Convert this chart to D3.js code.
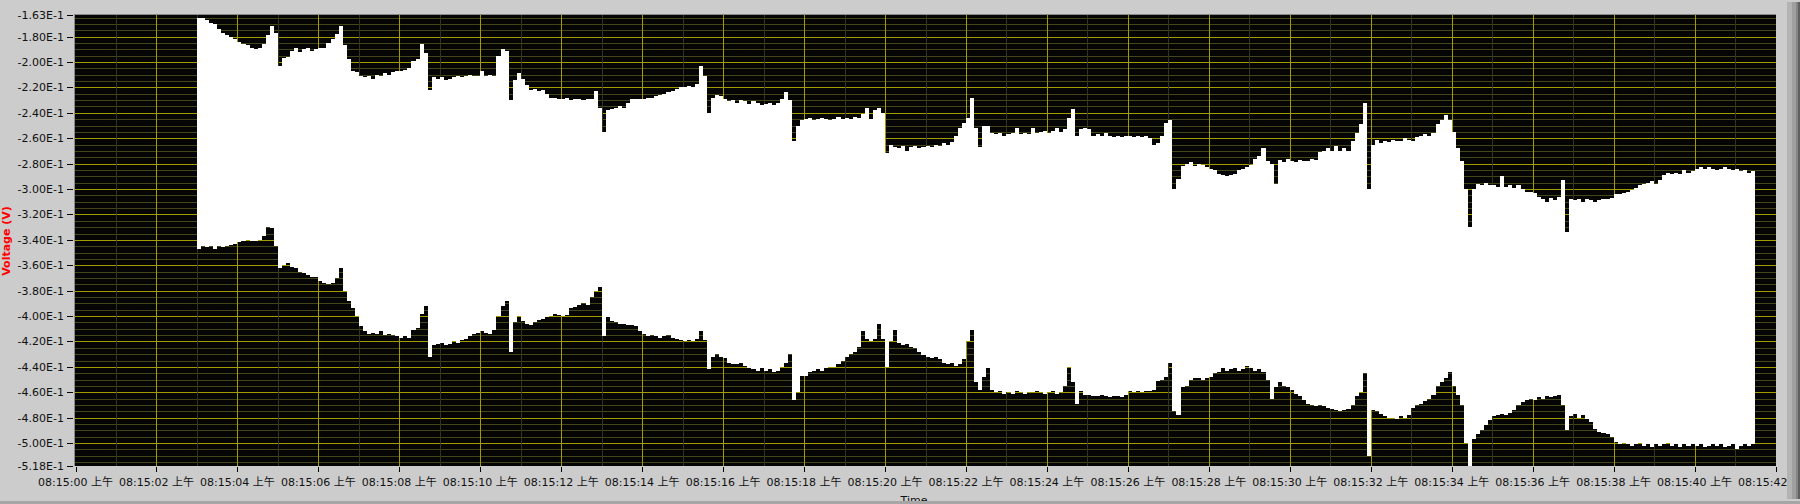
<!DOCTYPE html>
<html><head><meta charset="utf-8">
<script src="https://cdn.jsdelivr.net/npm/d3@7"></script>
<style>
html,body{margin:0;padding:0;background:#cccccc;overflow:hidden}
svg{display:block}
text{font-family:"DejaVu Sans","Noto Sans CJK SC",sans-serif}
</style></head><body>
<svg id="chart" width="1800" height="504"></svg>
<script>
// Envelope of the recorded signal: one sample every 0.1 s starting 08:15:03.0
const sampleStart = 3.0;   // seconds after 08:15:00
const sampleStep = 0.1;    // seconds
const upper = [
-0.165,-0.165,-0.167,-0.169,-0.170,-0.174,-0.177,-0.179,-0.180,-0.182,
-0.184,-0.186,-0.187,-0.189,-0.190,-0.189,-0.186,-0.179,-0.172,-0.177,
-0.203,-0.197,-0.196,-0.191,-0.189,-0.192,-0.190,-0.189,-0.191,-0.190,
-0.189,-0.189,-0.185,-0.182,-0.178,-0.172,-0.187,-0.198,-0.207,-0.208,
-0.211,-0.212,-0.211,-0.213,-0.210,-0.211,-0.209,-0.210,-0.208,-0.207,
-0.207,-0.206,-0.205,-0.199,-0.198,-0.186,-0.193,-0.222,-0.212,-0.213,
-0.212,-0.214,-0.213,-0.212,-0.211,-0.212,-0.211,-0.210,-0.211,-0.211,
-0.207,-0.211,-0.210,-0.211,-0.195,-0.190,-0.191,-0.230,-0.214,-0.209,
-0.213,-0.218,-0.222,-0.221,-0.223,-0.222,-0.225,-0.228,-0.228,-0.229,
-0.229,-0.228,-0.230,-0.229,-0.229,-0.230,-0.229,-0.229,-0.223,-0.236,
-0.255,-0.238,-0.237,-0.236,-0.235,-0.236,-0.232,-0.229,-0.229,-0.229,
-0.229,-0.228,-0.228,-0.227,-0.226,-0.225,-0.224,-0.223,-0.221,-0.220,
-0.220,-0.219,-0.220,-0.217,-0.203,-0.211,-0.240,-0.228,-0.226,-0.227,
-0.229,-0.231,-0.230,-0.232,-0.230,-0.231,-0.233,-0.231,-0.232,-0.234,
-0.233,-0.232,-0.234,-0.232,-0.229,-0.224,-0.230,-0.262,-0.250,-0.246,
-0.245,-0.244,-0.246,-0.245,-0.244,-0.245,-0.246,-0.245,-0.243,-0.245,
-0.244,-0.245,-0.243,-0.244,-0.241,-0.236,-0.245,-0.238,-0.236,-0.240,
-0.272,-0.265,-0.267,-0.268,-0.266,-0.270,-0.267,-0.266,-0.268,-0.267,
-0.266,-0.267,-0.265,-0.266,-0.264,-0.265,-0.263,-0.258,-0.252,-0.248,
-0.244,-0.228,-0.252,-0.267,-0.250,-0.250,-0.256,-0.257,-0.256,-0.258,
-0.257,-0.256,-0.252,-0.257,-0.256,-0.257,-0.252,-0.256,-0.255,-0.254,
-0.256,-0.254,-0.252,-0.255,-0.253,-0.244,-0.237,-0.258,-0.253,-0.252,
-0.253,-0.258,-0.257,-0.258,-0.256,-0.258,-0.259,-0.258,-0.259,-0.258,
-0.258,-0.259,-0.258,-0.259,-0.258,-0.260,-0.265,-0.264,-0.258,-0.248,
-0.246,-0.300,-0.292,-0.282,-0.280,-0.279,-0.282,-0.280,-0.281,-0.283,
-0.284,-0.285,-0.288,-0.289,-0.290,-0.289,-0.288,-0.285,-0.284,-0.283,
-0.281,-0.276,-0.274,-0.268,-0.278,-0.280,-0.296,-0.277,-0.279,-0.276,
-0.278,-0.279,-0.277,-0.278,-0.278,-0.276,-0.277,-0.271,-0.270,-0.268,
-0.270,-0.266,-0.270,-0.268,-0.270,-0.262,-0.256,-0.249,-0.232,-0.300,
-0.265,-0.261,-0.264,-0.262,-0.263,-0.261,-0.262,-0.262,-0.260,-0.261,
-0.262,-0.259,-0.258,-0.257,-0.258,-0.256,-0.249,-0.246,-0.242,-0.246,
-0.255,-0.268,-0.278,-0.300,-0.330,-0.300,-0.296,-0.297,-0.295,-0.297,
-0.297,-0.298,-0.290,-0.298,-0.297,-0.299,-0.297,-0.300,-0.302,-0.302,
-0.303,-0.306,-0.308,-0.310,-0.307,-0.309,-0.306,-0.293,-0.334,-0.308,
-0.309,-0.308,-0.310,-0.308,-0.309,-0.310,-0.309,-0.308,-0.308,-0.307,
-0.304,-0.304,-0.303,-0.302,-0.301,-0.299,-0.297,-0.296,-0.295,-0.294,
-0.296,-0.293,-0.289,-0.287,-0.288,-0.287,-0.288,-0.285,-0.287,-0.286,
-0.284,-0.283,-0.284,-0.283,-0.284,-0.285,-0.284,-0.283,-0.284,-0.285,
-0.284,-0.286,-0.285,-0.287,-0.286,-0.286
];
const lower = [
-0.347,-0.345,-0.346,-0.345,-0.347,-0.345,-0.346,-0.345,-0.344,-0.343,
-0.342,-0.341,-0.340,-0.341,-0.341,-0.340,-0.337,-0.330,-0.331,-0.345,
-0.362,-0.360,-0.358,-0.361,-0.362,-0.365,-0.366,-0.368,-0.369,-0.369,
-0.372,-0.374,-0.375,-0.374,-0.370,-0.362,-0.380,-0.388,-0.394,-0.400,
-0.408,-0.412,-0.414,-0.413,-0.414,-0.412,-0.415,-0.414,-0.415,-0.416,
-0.417,-0.416,-0.417,-0.411,-0.409,-0.398,-0.392,-0.432,-0.423,-0.422,
-0.421,-0.423,-0.422,-0.420,-0.421,-0.419,-0.418,-0.416,-0.414,-0.413,
-0.412,-0.413,-0.414,-0.411,-0.400,-0.392,-0.388,-0.428,-0.405,-0.400,
-0.404,-0.406,-0.407,-0.405,-0.403,-0.402,-0.401,-0.400,-0.398,-0.399,
-0.400,-0.399,-0.394,-0.393,-0.391,-0.390,-0.391,-0.385,-0.380,-0.377,
-0.416,-0.401,-0.404,-0.405,-0.406,-0.406,-0.407,-0.407,-0.408,-0.412,
-0.414,-0.416,-0.415,-0.416,-0.417,-0.416,-0.415,-0.417,-0.418,-0.419,
-0.420,-0.419,-0.420,-0.418,-0.412,-0.419,-0.442,-0.432,-0.430,-0.432,
-0.433,-0.437,-0.438,-0.438,-0.437,-0.439,-0.441,-0.442,-0.443,-0.441,
-0.443,-0.442,-0.444,-0.443,-0.440,-0.437,-0.430,-0.466,-0.460,-0.447,
-0.447,-0.444,-0.443,-0.442,-0.443,-0.441,-0.440,-0.440,-0.438,-0.435,
-0.432,-0.430,-0.428,-0.424,-0.412,-0.418,-0.420,-0.418,-0.406,-0.418,
-0.440,-0.420,-0.411,-0.421,-0.423,-0.422,-0.424,-0.425,-0.428,-0.431,
-0.432,-0.433,-0.432,-0.434,-0.437,-0.438,-0.437,-0.439,-0.438,-0.434,
-0.420,-0.411,-0.452,-0.458,-0.448,-0.441,-0.458,-0.460,-0.459,-0.461,
-0.460,-0.461,-0.459,-0.460,-0.461,-0.460,-0.460,-0.459,-0.460,-0.461,
-0.460,-0.459,-0.461,-0.460,-0.455,-0.440,-0.452,-0.469,-0.459,-0.462,
-0.462,-0.463,-0.463,-0.462,-0.463,-0.464,-0.463,-0.463,-0.464,-0.462,
-0.459,-0.460,-0.459,-0.460,-0.459,-0.459,-0.458,-0.451,-0.450,-0.448,
-0.437,-0.475,-0.478,-0.456,-0.455,-0.450,-0.449,-0.449,-0.450,-0.449,
-0.448,-0.445,-0.444,-0.441,-0.443,-0.442,-0.441,-0.443,-0.442,-0.439,
-0.441,-0.443,-0.442,-0.444,-0.450,-0.465,-0.456,-0.452,-0.455,-0.456,
-0.458,-0.461,-0.463,-0.466,-0.469,-0.470,-0.471,-0.470,-0.471,-0.472,
-0.473,-0.474,-0.475,-0.474,-0.473,-0.470,-0.463,-0.460,-0.445,-0.510,
-0.474,-0.475,-0.477,-0.479,-0.480,-0.480,-0.481,-0.479,-0.480,-0.478,
-0.472,-0.470,-0.469,-0.467,-0.465,-0.462,-0.455,-0.452,-0.449,-0.444,
-0.455,-0.462,-0.470,-0.500,-0.518,-0.497,-0.493,-0.490,-0.486,-0.482,
-0.479,-0.478,-0.477,-0.478,-0.476,-0.474,-0.470,-0.468,-0.466,-0.465,
-0.466,-0.464,-0.465,-0.463,-0.464,-0.463,-0.462,-0.470,-0.490,-0.479,
-0.477,-0.480,-0.478,-0.481,-0.483,-0.489,-0.491,-0.492,-0.493,-0.495,
-0.499,-0.501,-0.500,-0.501,-0.502,-0.501,-0.500,-0.502,-0.501,-0.503,
-0.501,-0.502,-0.501,-0.500,-0.502,-0.501,-0.503,-0.501,-0.502,-0.501,
-0.502,-0.501,-0.503,-0.502,-0.501,-0.502,-0.501,-0.503,-0.502,-0.501,
-0.505,-0.502,-0.501,-0.502,-0.501,-0.502
];
const yDomain = [-0.518, -0.163];
const yTickValues = [-0.163,-0.18,-0.20,-0.22,-0.24,-0.26,-0.28,-0.30,-0.32,-0.34,-0.36,-0.38,-0.40,-0.42,-0.44,-0.46,-0.48,-0.50,-0.518];
const xDomainSec = [0, 42];
const xTickSeconds = [0,2,4,6,8,10,12,14,16,18,20,22,24,26,28,30,32,34,36,38,40,42];
const xTickLabels = ["08:15:00 上午","08:15:02 上午","08:15:04 上午","08:15:06 上午","08:15:08 上午","08:15:10 上午","08:15:12 上午","08:15:14 上午","08:15:16 上午","08:15:18 上午","08:15:20 上午","08:15:22 上午","08:15:24 上午","08:15:26 上午","08:15:28 上午","08:15:30 上午","08:15:32 上午","08:15:34 上午","08:15:36 上午","08:15:38 上午","08:15:40 上午","08:15:42 上午"];
const yTitle = "Voltage (V)";
const xTitle = "Time";

const svg = d3.select("#chart");
const L = 75, R = 1776, T = 15, B = 466;
const x = d3.scaleLinear().domain(xDomainSec).range([L + 0.5, R - 0.5]);
const y = d3.scaleLinear().domain(yDomain).range([B, T]);

// background
svg.append("rect").attr("x",0).attr("y",0).attr("width",1800).attr("height",504).attr("fill","#cccccc");
// plot area
svg.append("rect").attr("x",L).attr("y",T).attr("width",R-L).attr("height",B-T).attr("fill","#050505");
// plot frame (top/left darker)
svg.append("rect").attr("x",L-1).attr("y",T-1).attr("width",R-L+1).attr("height",1).attr("fill","#8a8a8a");
svg.append("rect").attr("x",L-1).attr("y",T-1).attr("width",1).attr("height",B-T+1).attr("fill","#8a8a8a");

const grid = svg.append("g").attr("shape-rendering","crispEdges");
// horizontal minor/major grid, every 0.005
const hLines = d3.range(33, 104).map(k => ({v: -k*0.005, major: k % 4 === 0}));
grid.selectAll("line.h").data(hLines).join("line")
  .attr("x1", L).attr("x2", R)
  .attr("y1", d => Math.round(y(d.v)) + 0.5).attr("y2", d => Math.round(y(d.v)) + 0.5)
  .attr("stroke", d => d.major ? "#a39c00" : "#45451a").attr("stroke-width", 1);
// vertical grid, every second
const vLines = d3.range(1, 42).map(s => ({s, major: s % 2 === 0}));
grid.selectAll("line.v").data(vLines).join("line")
  .attr("y1", T).attr("y2", B)
  .attr("x1", d => Math.round(x(d.s)) + 0.5).attr("x2", d => Math.round(x(d.s)) + 0.5)
  .attr("stroke", d => d.major ? "#a39c00" : "#34341a").attr("stroke-width", 1);

// envelope
const area = d3.area()
  .x((d, i) => x(sampleStart + i * sampleStep))
  .y0((d, i) => y(lower[i]))
  .y1((d, i) => y(upper[i]))
  .curve(d3.curveStepAfter);
svg.append("path").datum(upper).attr("d", area).attr("fill", "#ffffff").attr("shape-rendering","crispEdges");

// y axis ticks & labels
const yAx = svg.append("g");
yAx.selectAll("line").data(yTickValues).join("line")
  .attr("x1", 67).attr("x2", 73)
  .attr("y1", d => Math.round(y(d)) + 0.5).attr("y2", d => Math.round(y(d)) + 0.5)
  .attr("stroke", "#000").attr("shape-rendering","crispEdges");
yAx.selectAll("text").data(yTickValues).join("text")
  .attr("x", 64).attr("y", d => y(d) + 4)
  .attr("text-anchor", "end").attr("font-size", 11).attr("fill", "#111")
  .text(d => "-" + (Math.abs(d) * 10).toFixed(2) + "E-1");

// x axis ticks & labels
const xAx = svg.append("g");
xAx.selectAll("line").data(xTickSeconds).join("line")
  .attr("y1", B + 1).attr("y2", B + 6)
  .attr("x1", d => Math.round(x(d)) + 0.5).attr("x2", d => Math.round(x(d)) + 0.5)
  .attr("stroke", "#000").attr("shape-rendering","crispEdges");

// right frame bars
svg.append("rect").attr("x",1787).attr("y",2).attr("width",5).attr("height",497).attr("fill","#b3b3b3");
svg.append("rect").attr("x",1792).attr("y",2).attr("width",4).attr("height",497).attr("fill","#9f9f9f");
svg.append("rect").attr("x",1796).attr("y",2).attr("width",2).attr("height",497).attr("fill","#858585");
svg.append("rect").attr("x",1798).attr("y",2).attr("width",2).attr("height",497).attr("fill","#5f5f5f");

xAx.selectAll("text").data(xTickSeconds).join("text")
  .attr("x", d => x(d)).attr("y", 486)
  .attr("text-anchor", "middle").attr("font-size", 11).attr("fill", "#111")
  .text((d, i) => xTickLabels[i]);

// titles
svg.append("text").attr("transform", "translate(10,241) rotate(-90)")
  .attr("text-anchor", "middle").attr("font-size", 11).attr("font-weight", "bold")
  .attr("fill", "#ff0000").text(yTitle);
svg.append("text").attr("x", 914).attr("y", 504)
  .attr("text-anchor", "middle").attr("font-size", 11).attr("fill", "#111").text(xTitle);

// bottom edge
svg.append("rect").attr("x",0).attr("y",501).attr("width",1800).attr("height",3).attr("fill","#a6a6a6");
</script>
</body></html>
